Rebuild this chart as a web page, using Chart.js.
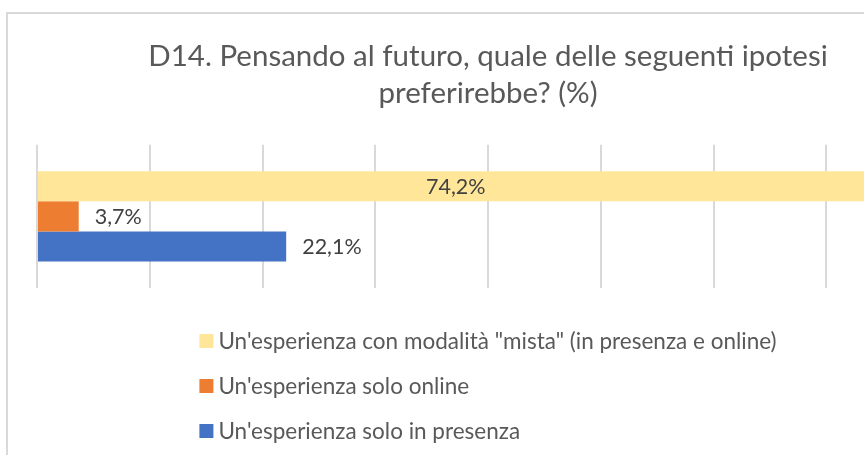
<!DOCTYPE html>
<html>
<head>
<meta charset="utf-8">
<script src="https://cdn.jsdelivr.net/npm/chart.js@4.4.0/dist/chart.umd.min.js"></script>
<style>
  html, body { margin: 0; padding: 0; background: #fff; overflow: hidden; }
  #wrap { width: 950px; height: 455px; }
</style>
</head>
<body>
<div id="wrap"><canvas id="chart" width="950" height="455"></canvas></div>
<script>
const categories = ['D14'];
const seriesNames = [
  'Un\'esperienza con modalità "mista" (in presenza e online)',
  'Un\'esperienza solo online',
  'Un\'esperienza solo in presenza'
];
const mistaValues = [74.2];
const onlineValues = [3.7];
const presenzaValues = [22.1];
const seriesColors = ['#FFE699', '#ED7D31', '#4472C4'];
const titleLines = ['D14. Pensando al futuro, quale delle seguenti ipotesi', 'preferirebbe? (%)'];

const FONT = 'Lato, "Open Sans", sans-serif';

// grey frame around the chart (Excel style)
const framePlugin = {
  id: 'frame',
  beforeDraw(chart) {
    const ctx = chart.ctx;
    ctx.save();
    ctx.strokeStyle = '#d9d9d9';
    ctx.lineWidth = 2;
    ctx.strokeRect(7, 13, chart.width - 14, chart.height + 20);
    ctx.restore();
  }
};

// value labels: outside end, or centered when there's no room
const labelPlugin = {
  id: 'barLabels',
  afterDatasetsDraw(chart) {
    const ctx = chart.ctx;
    const area = chart.chartArea;
    ctx.save();
    ctx.font = '21.5px ' + FONT;
    ctx.fillStyle = '#404040';
    ctx.textBaseline = 'middle';
    chart.data.datasets.forEach((ds, i) => {
      const meta = chart.getDatasetMeta(i);
      meta.data.forEach((bar, j) => {
        const txt = ds.data[j].toFixed(1).replace('.', ',') + '%';
        const w = ctx.measureText(txt).width;
        if (bar.x + 16 + w > area.right) {
          ctx.textAlign = 'center';
          ctx.fillText(txt, (bar.base + bar.x) / 2, bar.y + 1);
        } else {
          ctx.textAlign = 'left';
          ctx.fillText(txt, bar.x + 16, bar.y + 1);
        }
      });
    });
    ctx.restore();
  }
};

// vertical legend below the plot, centred under the chart area
const legendPlugin = {
  id: 'vLegend',
  afterDraw(chart) {
    const ctx = chart.ctx;
    const area = chart.chartArea;
    ctx.save();
    ctx.font = '22.5px ' + FONT;
    const widths = chart.data.datasets.map(ds => ctx.measureText(ds.label).width);
    const box = 14, gap = 5;
    const blockW = box + gap + Math.max(...widths);
    const left = (area.left + area.right) / 2 - blockW / 2;
    const top = 341, step = 45;
    ctx.textBaseline = 'middle';
    ctx.textAlign = 'left';
    chart.data.datasets.forEach((ds, i) => {
      const cy = top + i * step;
      ctx.fillStyle = ds.backgroundColor;
      ctx.fillRect(left, cy - box / 2, box, box);
      ctx.fillStyle = '#595959';
      ctx.fillText(ds.label, left + box + gap, cy + 1);
    });
    ctx.restore();
  }
};

new Chart(document.getElementById('chart'), {
  type: 'bar',
  data: {
    labels: categories,
    datasets: [
      { label: seriesNames[0], data: mistaValues, backgroundColor: seriesColors[0] },
      { label: seriesNames[1], data: onlineValues, backgroundColor: seriesColors[1] },
      { label: seriesNames[2], data: presenzaValues, backgroundColor: seriesColors[2] }
    ]
  },
  options: {
    indexAxis: 'y',
    responsive: false,
    animation: false,
    categoryPercentage: 0.63,
    barPercentage: 1,
    layout: { padding: { left: 37, right: 11, top: 0, bottom: 167 } },
    scales: {
      x: {
        min: 0,
        max: 80,
        ticks: { display: false, stepSize: 10 },
        grid: { color: '#d9d9d9', lineWidth: 2, drawTicks: false },
        border: { display: false }
      },
      y: {
        ticks: { display: false },
        grid: { display: false, drawTicks: false },
        border: { display: false }
      }
    },
    plugins: {
      legend: { display: false },
      tooltip: { enabled: false },
      title: {
        display: true,
        text: titleLines,
        color: '#595959',
        font: { family: FONT, size: 29.5, weight: 'normal', lineHeight: 1.25 },
        padding: { top: 38, bottom: 33 }
      }
    }
  },
  plugins: [framePlugin, labelPlugin, legendPlugin]
});
</script>
</body>
</html>
